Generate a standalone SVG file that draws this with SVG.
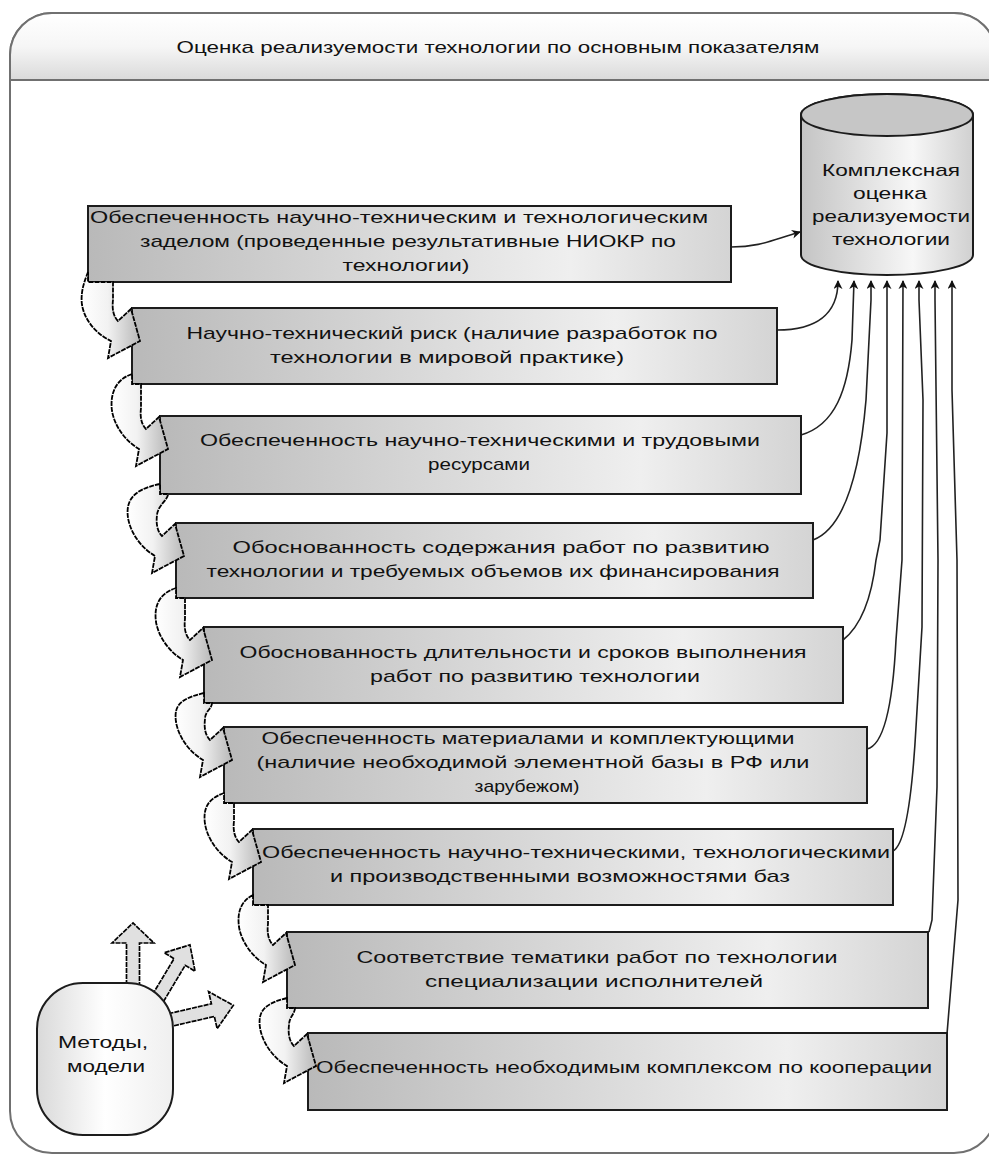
<svg xmlns="http://www.w3.org/2000/svg" width="989" height="1154" viewBox="0 0 989 1154">
<defs>
<linearGradient id="gBox" x1="0" y1="0" x2="1" y2="0">
<stop offset="0" stop-color="#b9b9b9"/><stop offset="0.75" stop-color="#efefef"/><stop offset="1" stop-color="#d4d4d4"/>
</linearGradient>
<linearGradient id="gHead" x1="0" y1="0" x2="0" y2="1">
<stop offset="0" stop-color="#ffffff"/><stop offset="0.5" stop-color="#f6f6f6"/><stop offset="1" stop-color="#dadada"/>
</linearGradient>
<linearGradient id="gCyl" x1="0" y1="0" x2="1" y2="0">
<stop offset="0" stop-color="#c4c4c4"/><stop offset="0.65" stop-color="#f7f7f7"/><stop offset="1" stop-color="#d0d0d0"/>
</linearGradient>
<linearGradient id="gArr" x1="0" y1="0" x2="1" y2="0">
<stop offset="0" stop-color="#ffffff"/><stop offset="0.45" stop-color="#f2f2f2"/><stop offset="1" stop-color="#b8b8b8"/>
</linearGradient>
<linearGradient id="gMeth" x1="0" y1="0" x2="1" y2="0">
<stop offset="0" stop-color="#d9d9d9"/><stop offset="0.5" stop-color="#ffffff"/><stop offset="1" stop-color="#efefef"/>
</linearGradient>
<marker id="ah" viewBox="0 0 10 10" refX="9" refY="5" markerWidth="9" markerHeight="9" markerUnits="userSpaceOnUse" orient="auto">
<path d="M0,0 L10,5 L0,10 L3,5 z" fill="#111"/>
</marker>
<style>
.box{fill:url(#gBox);stroke:#1c1c1c;stroke-width:2}
.t{font-family:"Liberation Sans",Arial,sans-serif;font-size:17px;fill:#111;text-anchor:middle}
.conn{fill:none;stroke:#222;stroke-width:1.6;marker-end:url(#ah)}
.carr{fill:url(#gArr);stroke:#000;stroke-width:1.8;stroke-dasharray:5 1}
.barr{fill:#e0e0e0;stroke:#000;stroke-width:1.7;stroke-dasharray:5 1}
.frame{fill:#ffffff;stroke:#707070;stroke-width:2}
</style>
</defs>

<g id="frame">
<rect class="frame" x="10" y="13" width="986" height="1140" rx="42" ry="42"/>
<path d="M10,80 L10,55 A42,42 0 0 1 52,13 L954,13 A42,42 0 0 1 996,55 L996,80 Z" fill="url(#gHead)" stroke="#707070" stroke-width="2"/>
<text class="t" x="498" y="53" textLength="643" lengthAdjust="spacingAndGlyphs">Оценка реализуемости технологии по основным показателям</text>
</g>

<g id="connectors">
<path class="conn" d="M731,247 C760,247 772,240 800,232"/>
<path class="conn" d="M777,330 C815,330 838,315 838,281"/>
<path class="conn" d="M801,435 C835,425 848,390 852,340 L854,281"/>
<path class="conn" d="M813,540 C845,528 860,470 866,400 L871,300 L871,281"/>
<path class="conn" d="M843,640 C862,625 872,595 876,560 L880,540 L887,433 L887,281"/>
<path class="conn" d="M867,749 C885,745 893,700 896,640 L902,560 L903,281"/>
<path class="conn" d="M893,851 C905,845 912,800 916,727 L922,627 L923,400 L919,300 L919,281"/>
<path class="conn" d="M929,932 L932,920 L937,787 L938,560 L935,300 L935,281"/>
<path class="conn" d="M947,1034 L958,900 L957,560 L952,390 L952,281"/>
</g>

<g id="box1">
<rect class="box" x="88" y="206" width="643" height="76"/>
<text class="t" x="399" y="223" textLength="618" lengthAdjust="spacingAndGlyphs">Обеспеченность научно-техническим и технологическим</text>
<text class="t" x="408" y="247" textLength="536" lengthAdjust="spacingAndGlyphs">заделом (проведенные результативные НИОКР по</text>
<text class="t" x="406" y="271" textLength="127" lengthAdjust="spacingAndGlyphs">технологии)</text>
</g>
<g id="box2">
<rect class="box" x="132" y="308" width="645" height="76"/>
<text class="t" x="452" y="339" textLength="531" lengthAdjust="spacingAndGlyphs">Научно-технический риск (наличие разработок по</text>
<text class="t" x="447" y="363" textLength="354" lengthAdjust="spacingAndGlyphs">технологии в мировой практике)</text>
</g>
<g id="box3">
<rect class="box" x="160" y="416" width="641" height="78"/>
<text class="t" x="480" y="446" textLength="560" lengthAdjust="spacingAndGlyphs">Обеспеченность научно-техническими и  трудовыми</text>
<text class="t" x="479" y="470" textLength="102" lengthAdjust="spacingAndGlyphs">ресурсами</text>
</g>
<g id="box4">
<rect class="box" x="176" y="523" width="637" height="75"/>
<text class="t" x="501" y="553" textLength="537" lengthAdjust="spacingAndGlyphs">Обоснованность содержания работ по развитию</text>
<text class="t" x="493" y="577" textLength="573" lengthAdjust="spacingAndGlyphs">технологии и требуемых объемов их финансирования</text>
</g>
<g id="box5">
<rect class="box" x="204" y="627" width="639" height="76"/>
<text class="t" x="523" y="658" textLength="567" lengthAdjust="spacingAndGlyphs">Обоснованность длительности и сроков выполнения</text>
<text class="t" x="535" y="682" textLength="330" lengthAdjust="spacingAndGlyphs">работ по развитию технологии</text>
</g>
<g id="box6">
<rect class="box" x="224" y="727" width="643" height="76"/>
<text class="t" x="528" y="744" textLength="533" lengthAdjust="spacingAndGlyphs">Обеспеченность материалами и комплектующими</text>
<text class="t" x="533" y="768" textLength="553" lengthAdjust="spacingAndGlyphs">(наличие необходимой элементной базы в РФ или</text>
<text class="t" x="527" y="792" textLength="105" lengthAdjust="spacingAndGlyphs">зарубежом)</text>
</g>
<g id="box7">
<rect class="box" x="253" y="829" width="640" height="76"/>
<text class="t" x="576" y="858" textLength="628" lengthAdjust="spacingAndGlyphs">Обеспеченность научно-техническими, технологическими</text>
<text class="t" x="560" y="882" textLength="460" lengthAdjust="spacingAndGlyphs">и производственными возможностями баз</text>
</g>
<g id="box8">
<rect class="box" x="287" y="932" width="641" height="76"/>
<text class="t" x="597" y="963" textLength="481" lengthAdjust="spacingAndGlyphs">Соответствие тематики работ по технологии</text>
<text class="t" x="594" y="987" textLength="338" lengthAdjust="spacingAndGlyphs">специализации исполнителей</text>
</g>
<g id="box9">
<rect class="box" x="308" y="1033" width="639" height="77"/>
<text class="t" x="624" y="1073" textLength="616" lengthAdjust="spacingAndGlyphs">Обеспеченность необходимым комплексом по кооперации</text>
</g>

<g id="cylinder">
<path d="M801,115 A86,21 0 0 1 973,115 L973,255 A86,20 0 0 1 801,255 Z" fill="url(#gCyl)" stroke="#1c1c1c" stroke-width="2"/>
<ellipse cx="887" cy="115" rx="86" ry="21" fill="#c6c6c6" stroke="#1c1c1c" stroke-width="2"/>
<text class="t" x="891" y="176" textLength="138" lengthAdjust="spacingAndGlyphs">Комплексная</text>
<text class="t" x="890" y="199" textLength="74" lengthAdjust="spacingAndGlyphs">оценка</text>
<text class="t" x="891" y="222" textLength="158" lengthAdjust="spacingAndGlyphs">реализуемости</text>
<text class="t" x="891" y="245" textLength="118" lengthAdjust="spacingAndGlyphs">технологии</text>
</g>

<g id="flow-arrows">
<path class="carr" d="M88,272 C86,278 80,290 82,305 C85,322 98,335 111,341 L108,358 L140,341 L131,309 L118,321 C113,316 112,308 113,300 L113,282 L88,282 Z"/>
<path class="carr" d="M132,374 C114,380 110,396 112,411 C115,428 127,442 139,449 L136,466 L168,449 L159,417 L146,429 C141,424 140,416 141,408 L141,384 L132,384 Z"/>
<path class="carr" d="M160,484 C130,490 126,503 128,518 C131,535 143,549 155,556 L152,573 L184,556 L175,524 L162,536 C157,531 156,523 157,515 C158,505 168,500 168,494 L160,494 Z"/>
<path class="carr" d="M176,588 C158,594 154,607 156,622 C159,639 171,653 183,660 L180,677 L212,660 L203,628 L190,640 C185,635 184,627 185,619 C185,611 185,604 185,598 L176,598 Z"/>
<path class="carr" d="M204,693 C178,699 174,707 176,722 C179,739 191,753 203,760 L200,777 L232,760 L223,728 L210,740 C205,735 204,727 205,719 C205,711 212,709 212,703 L204,703 Z"/>
<path class="carr" d="M224,793 C207,799 203,809 205,824 C208,841 220,855 232,862 L229,879 L261,862 L252,830 L239,842 C234,837 233,829 234,821 C234,813 234,809 234,803 L224,803 Z"/>
<path class="carr" d="M253,895 C241,901 237,912 239,927 C242,944 254,958 266,965 L263,982 L295,965 L286,933 L273,945 C268,940 267,932 268,924 C268,916 268,911 268,905 L253,905 Z"/>
<path class="carr" d="M287,998 C262,1004 258,1013 260,1028 C263,1045 275,1059 287,1066 L284,1083 L316,1066 L307,1034 L294,1046 C289,1041 288,1033 289,1025 C289,1017 295,1014 295,1008 L287,1008 Z"/>
</g>

<g id="method-arrows">
<polygon class="barr" transform="translate(133,985) rotate(-90)" points="0,-6.5 42,-6.5 42,-21 62,0 42,21 42,6.5 0,6.5"/>
<polygon class="barr" transform="translate(158,998) rotate(-59)" points="0,-6.5 42,-6.5 42,-18 62,0 42,18 42,6.5 0,6.5"/>
<polygon class="barr" transform="translate(170,1020) rotate(-13)" points="0,-6.5 44,-6.5 44,-19 65,0 44,19 44,6.5 0,6.5"/>
</g>

<g id="methods">
<rect x="37" y="983" width="136" height="152" rx="46" ry="46" fill="url(#gMeth)" stroke="#1c1c1c" stroke-width="2"/>
<text class="t" x="103" y="1048" textLength="90" lengthAdjust="spacingAndGlyphs">Методы,</text>
<text class="t" x="106" y="1072" textLength="78" lengthAdjust="spacingAndGlyphs">модели</text>
</g>
</svg>
